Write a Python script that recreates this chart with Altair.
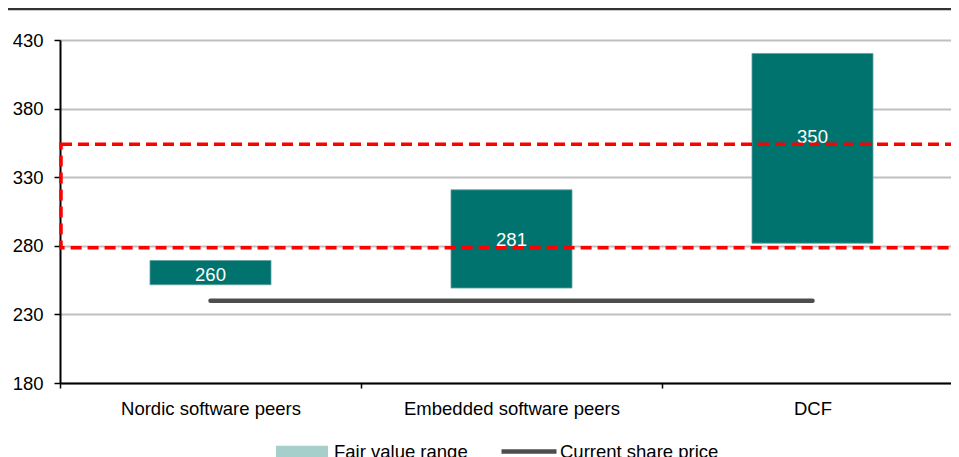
import altair as alt
import pandas as pd

# ---- data ----
categories = ["Nordic software peers", "Embedded software peers", "DCF"]
range_low = [251.6, 249.2, 281.9]
range_high = [269.3, 320.8, 420.2]
fair_value = [260, 281, 350]
label_pos = [259, 284.5, 359]
share_price = 240
target_low = 278.5
target_high = 354
y_ticks = [180, 230, 280, 330, 380, 430]
title_text = "Figure 11: Valuation summary (SEK/share)"
legend_fair = "Fair value range"
legend_price = "Current share price"

TEAL = "#00736f"
FONT = "Liberation Sans"
FS = 18.5
W, H = 891, 343

bars_df = pd.DataFrame({
    "cat": categories,
    "low": range_low,
    "high": range_high,
    "fv": fair_value,
    "lab": label_pos,
    "txt": [str(v) for v in fair_value],
})
price_df = pd.DataFrame({
    "start": [categories[0]],
    "end": [categories[-1]],
    "price": [share_price],
    "series": [legend_price],
})
legend_df = pd.DataFrame({"cat": [categories[0]], "v": [y_ticks[0]], "series": [legend_fair]})
target_df = pd.DataFrame({"lo": [target_low], "hi": [target_high]})

xscale = alt.Scale(domain=categories, paddingInner=0, paddingOuter=0, range=[0, 903])
yscale = alt.Scale(domain=[y_ticks[0], y_ticks[-1]], nice=False, zero=False)

xaxis = alt.Axis(
    title=None, labelAngle=0, tickBand="extent", domainColor="black", domainWidth=2,
    tickColor="black", tickSize=5, tickWidth=1.5, labelFontSize=FS, labelFont=FONT,
    labelColor="black", labelPadding=11, grid=False, labelLimit=0,
)
yaxis = alt.Axis(
    title=None, values=y_ticks, domainColor="black", domainWidth=2, tickColor="black",
    tickSize=6, tickWidth=1.5, labelFontSize=FS, labelFont=FONT, labelColor="black",
    labelPadding=11, grid=True, gridColor="#c0c0c0", gridWidth=2,
)

base = alt.Chart(bars_df)

bars = base.mark_bar(
    color=TEAL, stroke="#5fa29e", strokeWidth=0.8, width=alt.RelativeBandSize(0.402)
).encode(
    x=alt.X("cat:N", scale=xscale, axis=xaxis, sort=categories),
    y=alt.Y("low:Q", scale=yscale, axis=yaxis),
    y2="high:Q",
)

labels = base.mark_text(color="white", fontSize=FS, font=FONT, baseline="middle", align="center").encode(
    x=alt.X("cat:N", scale=xscale, sort=categories),
    y=alt.Y("lab:Q", scale=yscale),
    text="txt:N",
)

legend_bar = alt.Chart(legend_df).mark_bar(width=alt.RelativeBandSize(0.402)).encode(
    x=alt.X("cat:N", scale=xscale, sort=categories),
    y=alt.Y("v:Q", scale=yscale),
    y2="v:Q",
    fill=alt.Fill(
        "series:N",
        scale=alt.Scale(domain=[legend_fair], range=["#a6cfcc"]),
        legend=alt.Legend(
            title=None, orient="none", legendX=216, legendY=385.5, padding=0,
            symbolType="M-1,-0.22H1V0.22H-1Z", symbolSize=2704, symbolStrokeWidth=0,
            labelFontSize=FS, labelFont=FONT, labelColor="black", labelOffset=6,
        ),
    ),
)

price = alt.Chart(price_df).mark_rule(strokeWidth=4.5, strokeCap="round").encode(
    x=alt.X("start:N", scale=xscale, sort=categories),
    x2="end:N",
    y=alt.Y("price:Q", scale=yscale),
    stroke=alt.Stroke(
        "series:N",
        scale=alt.Scale(domain=[legend_price], range=["#4d4d4d"]),
        legend=alt.Legend(
            title=None, orient="none", legendX=439, legendY=381.5, padding=0,
            symbolType="stroke", symbolSize=3025, symbolStrokeWidth=4.5,
            labelFontSize=FS, labelFont=FONT, labelColor="black", labelOffset=1,
        ),
    ),
)

target = alt.Chart(target_df).mark_rect(
    fill=None, stroke="#ff0000", strokeWidth=3.5, strokeDash=[11, 6]
).encode(
    x=alt.value(1),
    x2=alt.value(W + 12),
    y=alt.Y("lo:Q", scale=yscale),
    y2="hi:Q",
)

top_rule = alt.Chart(target_df).mark_rule(color="#333333", strokeWidth=2.5).encode(
    x=alt.value(-60), x2=alt.value(W + 10), y=alt.value(-31)
)

chart = alt.layer(bars, labels, legend_bar, price, target, top_rule).properties(
    width=W,
    height=H,
    autosize=alt.AutoSizeParams(type="none"),
    padding={"left": 52, "top": 32, "right": 0, "bottom": 74},
    title=alt.TitleParams(
        title_text, anchor="start", frame="group", dx=-68, offset=34,
        fontSize=18, font=FONT, fontWeight="bold", color=TEAL, baseline="alphabetic",
    ),
).configure_view(stroke=None).configure(background="white")

chart.save("out.html", embed_options={"renderer": "svg", "actions": False})
